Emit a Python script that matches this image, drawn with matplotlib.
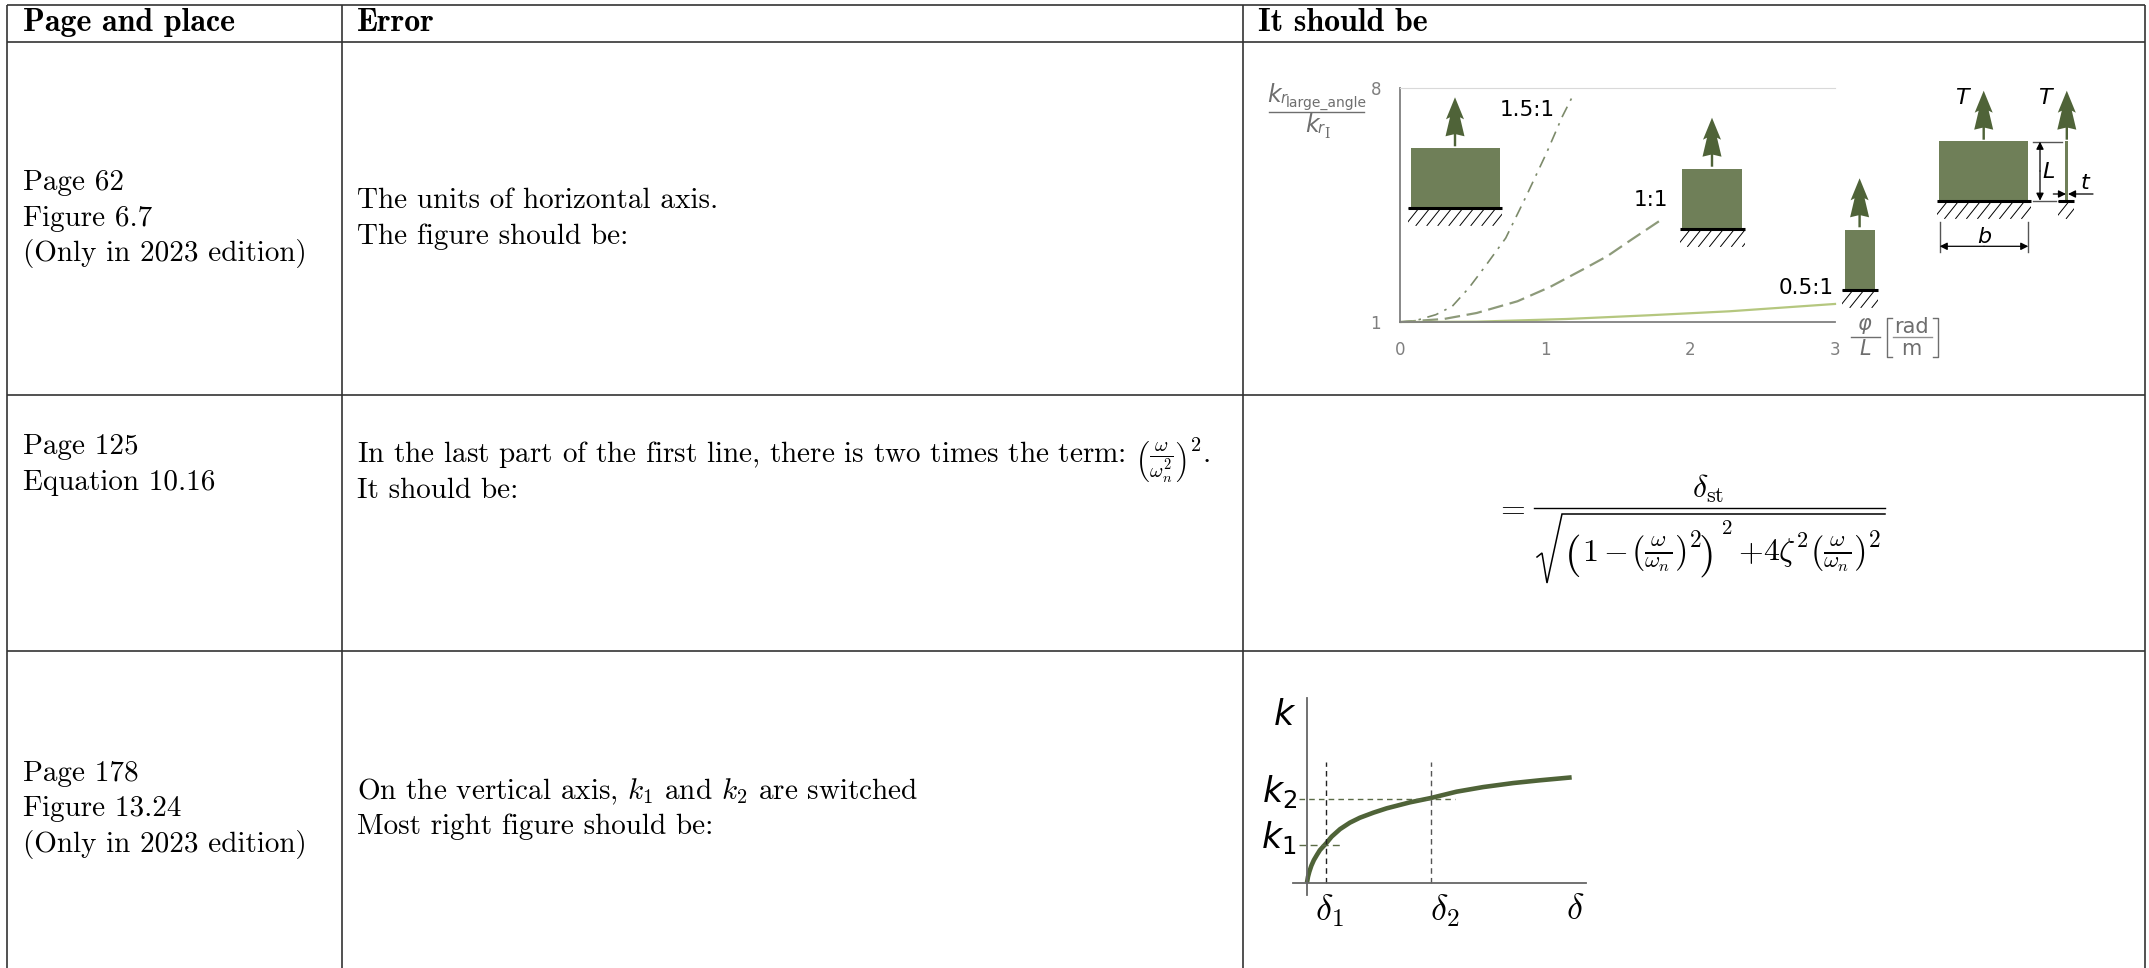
import matplotlib
matplotlib.use("Agg")
import matplotlib.pyplot as plt
from matplotlib.patches import Polygon, Rectangle

plt.rcParams["mathtext.fontset"] = "cm"
plt.rcParams["font.family"] = "cmr10"
plt.rcParams["axes.unicode_minus"] = False

W, H = 2149, 968

# data
curve_15_x = [0, 0.104, 0.245, 0.358, 0.473, 0.586, 0.727, 0.868, 1.008, 1.118, 1.194]
curve_15_y = [1, 1.04, 1.22, 1.47, 2.02, 2.67, 3.51, 4.76, 6.05, 7.15, 7.8]
curve_10_x = [0, 0.30, 0.527, 0.808, 1.034, 1.259, 1.428, 1.597, 1.808]
curve_10_y = [1, 1.09, 1.27, 1.62, 2.05, 2.57, 2.97, 3.47, 4.08]
curve_05_x = [0, 0.527, 1.146, 1.71, 2.27, 3.0]
curve_05_y = [1, 1.01, 1.09, 1.20, 1.32, 1.54]
ratio_xticks = [0, 1, 2, 3]
ratio_yticks = [1, 8]

k_delta = [0, 0.0038, 0.0088, 0.0164, 0.026, 0.038, 0.049, 0.072, 0.093, 0.125, 0.162, 0.200, 0.251, 0.301,
           0.389, 0.468, 0.565, 0.666, 0.779, 0.879, 1.0]
k_value = [0, 0.057, 0.104, 0.161, 0.215, 0.266, 0.310, 0.373, 0.437, 0.509, 0.570, 0.617, 0.665, 0.706,
           0.763, 0.804, 0.864, 0.908, 0.946, 0.972, 1.0]
delta_1, delta_2 = 0.073, 0.468
k_1, k_2 = 0.358, 0.794

headers = ["Page and place", "Error", "It should be"]
col1_lines = [
    (189.5, "Page 62"), (225.5, "Figure 6.7"), (260.5, "(Only in 2023 edition)"),
    (454.5, "Page 125"), (490.5, "Equation 10.16"),
    (781, "Page 178"), (816.5, "Figure 13.24"), (852, "(Only in 2023 edition)"),
]
col2_lines = [
    (208, "The units of horizontal axis."), (244, "The figure should be:"),
    (462, r"In the last part of the first line, there is two times the term: $\left(\frac{\omega}{\omega_n^2}\right)^2$."),
    (498, "It should be:"),
    (799, r"On the vertical axis, $k_1$ and $k_2$ are switched"), (834.5, "Most right figure should be:"),
]

# colours
LINE = "#333333"
BLOCK = "#6f7f58"
TREE = "#4f6338"
GREY = "#7f7f7f"
DIM = "#555555"


def px_axes(fig, left, right, top, bottom):
    return fig.add_axes([left / W, 1 - bottom / H, (right - left) / W, (bottom - top) / H])


def draw_tree(ax, x, tip):
    half = [(0, 0), (9, 22), (5, 20), (9.5, 39), (1.2, 37), (1.2, 49)]
    pts = [(x + dx, tip + dy) for dx, dy in half] + [(x - dx, tip + dy) for dx, dy in reversed(half)]
    ax.add_patch(Polygon(pts, closed=True, fc=TREE, ec="none"))


def draw_ground(ax, x0, x1, y, depth):
    ax.plot([x0, x1], [y, y], color="black", lw=2.2, solid_capstyle="butt")
    clip = Rectangle((x0, y), x1 - x0, depth, transform=ax.transData)
    x = x0
    while x < x1 + depth:
        ln, = ax.plot([x, x - 0.8 * depth], [y, y + depth], color="black", lw=0.7)
        ln.set_clip_path(clip)
        x += 11


def draw_block(ax, x0, x1, top, bottom, tree_x, tip, ground, depth):
    ax.add_patch(Rectangle((x0, top), x1 - x0, bottom - top, fc=BLOCK, ec="none"))
    draw_tree(ax, tree_x, tip)
    draw_ground(ax, ground[0], ground[1], bottom, depth)


def arrow(ax, start, end):
    ax.annotate("", xy=end, xytext=start,
                arrowprops=dict(arrowstyle="-|>", color="black", lw=0.9, mutation_scale=11, shrinkA=0, shrinkB=0))


fig = plt.figure(figsize=(W / 100, H / 100), dpi=100, facecolor="white")
ax = fig.add_axes([0, 0, 1, 1])
ax.set_xlim(0, W)
ax.set_ylim(H, 0)
ax.axis("off")

# table rules
for y in [5, 42, 395, 651]:
    ax.plot([7, 2145], [y, y], color=LINE, lw=1.2, solid_capstyle="butt")
for x in [7, 342, 1243, 2145]:
    ax.plot([x, x], [5, H], color=LINE, lw=1.2, solid_capstyle="butt")

for x, label in zip([23, 357, 1258], headers):
    ax.text(x, 31, label, family="cmb10", fontsize=23, va="baseline", color="black")
for y, label in col1_lines:
    ax.text(23, y, label, fontsize=21, va="baseline", color="black")
for y, label in col2_lines:
    ax.text(357, y, label, fontsize=21, va="baseline", color="black")

# ratio chart
chart = px_axes(fig, 1400.4, 1835, 88, 322)
chart.patch.set_alpha(0)
chart.set_xlim(0, 3)
chart.set_ylim(1, 8)
chart.plot(curve_15_x, curve_15_y, color="#7c8a6a", lw=1.2, ls=(0, (7, 4, 1.5, 4)), clip_on=False)
chart.plot(curve_10_x, curve_10_y, color="#8d9a7a", lw=1.6, ls=(0, (7, 3)), clip_on=False)
chart.plot(curve_05_x, curve_05_y, color="#b5c77f", lw=1.6, clip_on=False)
chart.set_xticks(ratio_xticks)
chart.set_yticks(ratio_yticks)
chart.tick_params(length=0, colors=GREY, labelsize=12, pad=14)
for lab in chart.get_xticklabels() + chart.get_yticklabels():
    lab.set_family("DejaVu Sans")
chart.spines["right"].set_visible(False)
chart.spines["top"].set_color("#d9d9d9")
chart.spines["left"].set_color(GREY)
chart.spines["bottom"].set_color(GREY)
chart.spines["left"].set_linewidth(1.3)
chart.spines["bottom"].set_linewidth(1.3)

# chart overlay drawings
over = fig.add_axes([0, 0, 1, 1])
over.set_xlim(0, W)
over.set_ylim(H, 0)
over.axis("off")
over.patch.set_alpha(0)

draw_block(over, 1411, 1500, 148, 208, 1455, 97.3, (1408, 1502), 17.5)
draw_block(over, 1682, 1742, 169, 229, 1712, 117.7, (1679.6, 1745), 17.5)
draw_block(over, 1845, 1875, 230, 290, 1859.6, 178.3, (1842, 1877.5), 17.5)
draw_block(over, 1939, 2028.3, 141, 201, 1983.7, 90.7, (1936.7, 2031), 17.5)
draw_block(over, 2065.3, 2068.3, 141, 201, 2066.8, 90.7, (2058.3, 2074), 17.5)

sans = dict(family="DejaVu Sans", va="center")
for x, y, s in [(1500, 110, "1.5:1"), (1634, 200, "1:1"), (1779, 288, "0.5:1")]:
    over.text(x, y, s, fontsize=15.5, color="black", **sans)

for x, y, s in [(1962, 98, "T"), (2045, 98, "T"), (2048.3, 171.7, "L"), (2085, 183, "t"), (1984, 236.7, "b")]:
    over.text(x, y, s, fontsize=16, color="black", style="italic", ha="center", **sans)

for xs, ys in [((2032.7, 2061.7), (141.7, 141.7)), ((2032.7, 2056), (200.7, 200.7)),
               ((1939.7, 1939.7), (221.7, 251.7)), ((2028.3, 2028.3), (221.7, 251.7))]:
    over.plot(xs, ys, color=DIM, lw=1.0)
arrow(over, (2040, 171), (2040, 141.7))
arrow(over, (2040, 171), (2040, 200.7))
arrow(over, (2053.3, 194), (2066, 194))
arrow(over, (2093, 194), (2068, 194))
arrow(over, (1984, 246.3), (1939.7, 246.3))
arrow(over, (1984, 246.3), (2028.3, 246.3))

# y label of the ratio chart
ylab = dict(family="DejaVu Sans", color="#6e6e6e", va="baseline")
over.text(1266.7, 102, "k", fontsize=17, style="italic", **ylab)
over.text(1280, 103, "r", fontsize=10.5, style="italic", **ylab)
over.text(1286, 107, "large_angle", fontsize=10, **ylab)
over.plot([1269, 1364], [112, 112], color="#6e6e6e", lw=1.0)
over.text(1305, 131.7, "k", fontsize=17, style="italic", **ylab)
over.text(1317, 133, "r", fontsize=10.5, style="italic", **ylab)
over.text(1324, 138, "I", fontsize=10, family="DejaVu Serif", color="#6e6e6e", va="baseline")

# x label of the ratio chart
xlab = dict(family="DejaVu Sans", color="#6e6e6e", ha="center", va="center", fontsize=15)
over.text(1865, 326, r"$\varphi$", math_fontfamily="dejavusans", **xlab)
over.text(1865.7, 349, "L", style="italic", **xlab)
over.plot([1851, 1880], [337.3, 337.3], color="#6e6e6e", lw=1.0)
over.text(1911.7, 326.7, "rad", **xlab)
over.text(1911.7, 349, "m", **xlab)
over.plot([1892.7, 1932], [337.3, 337.3], color="#8f8f8f", lw=1.0)
over.plot([1892, 1887, 1887, 1892], [318, 318, 357, 357], color="#6e6e6e", lw=1.0)
over.plot([1933, 1938, 1938, 1933], [318, 318, 357, 357], color="#6e6e6e", lw=1.0)

# corrected equation
over.text(1510.7, 508, "$=$", fontsize=23, ha="center", va="center", color="black")
over.text(1708, 498, r"$\delta_{\mathrm{st}}$", fontsize=23, ha="center", va="baseline", color="black")
over.plot([1534, 1885], [508, 508], color="black", lw=1.0)
over.plot([1537, 1542, 1547, 1562, 1885], [557, 553, 583, 514, 514], color="black", lw=1.1, solid_joinstyle="miter")
inner = r"$\left(\frac{\omega}{\omega_n}\right)^2$"
over.text(1581.7, 561, "$1-$", fontsize=23, va="baseline", color="black")
over.text(1631, 561, inner, fontsize=24, va="baseline", color="black")
over.text(1573, 556, "(", fontsize=31, ha="center", va="center", color="black")
over.text(1707, 556, ")", fontsize=31, ha="center", va="center", color="black")
over.text(1726.7, 529, "2", fontsize=15, ha="center", va="center", color="black")
over.text(1750, 561, "$+$", fontsize=23, ha="center", va="baseline", color="black")
over.text(1763, 561, r"$4\zeta^2$", fontsize=23, va="baseline", color="black")
over.text(1810, 561, inner, fontsize=24, va="baseline", color="black")

# stiffness chart
stiff = px_axes(fig, 1293, 1585.7, 698, 895)
stiff.patch.set_alpha(0)
x_unit, y_unit = 264.67, 105.33
stiff.set_xlim(-14 / x_unit, 278.7 / x_unit)
stiff.set_ylim(-12.3 / y_unit, 184.7 / y_unit)
for side in ["top", "right"]:
    stiff.spines[side].set_visible(False)
for side in ["left", "bottom"]:
    stiff.spines[side].set_position(("data", 0))
    stiff.spines[side].set_color("#666666")
    stiff.spines[side].set_linewidth(1.3)
stiff.set_xticks([])
stiff.set_yticks([])
stiff.plot(k_delta, k_value, color="#4f6338", lw=3.3, solid_capstyle="butt", solid_joinstyle="round")
stiff.plot([delta_1, delta_1], [0, 1.149], color="#222222", lw=1.0, ls=(0, (4, 3)))
stiff.plot([delta_2, delta_2], [0, 1.149], color="#555555", lw=1.0, ls=(0, (4, 3)))
stiff.plot([-0.029, 0.559], [k_2, k_2], color="#5b6b47", lw=1.0, ls=(0, (4, 3)))
stiff.plot([-0.029, 0.131], [k_1, k_1], color="#5b6b47", lw=1.0, ls=(0, (5, 3)))

big = dict(family="DejaVu Sans", color="black", ha="center", va="center")
over.text(1284.3, 715, r"$k$", fontsize=25, math_fontfamily="dejavusans", **big)
over.text(1280, 792, r"$k_2$", fontsize=25, math_fontfamily="dejavusans", **big)
over.text(1279, 838, r"$k_1$", fontsize=25, math_fontfamily="dejavusans", **big)
over.text(1329, 911, r"$\delta_1$", fontsize=26, **big)
over.text(1445, 911, r"$\delta_2$", fontsize=26, **big)
over.text(1575, 909, r"$\delta$", fontsize=26, **big)

fig.savefig("out.png", dpi=100)
